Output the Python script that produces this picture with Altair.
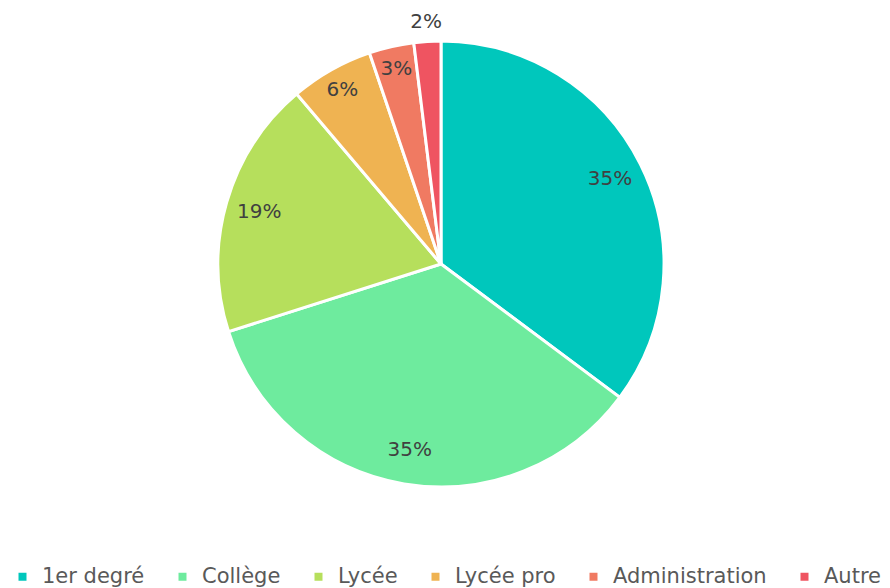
import altair as alt
import pandas as pd

categories = ["1er degré", "Collège", "Lycée", "Lycée pro", "Administration", "Autre"]
values = [35.2, 34.9, 18.7, 6.0, 3.25, 1.95]
labels = ["35%", "35%", "19%", "6%", "3%", "2%"]
colors = ["#00C7BC", "#6EEB9E", "#B6DF5C", "#EFB352", "#F07A62", "#EF5461"]

df = pd.DataFrame({"cat": categories, "value": values, "label": labels,
                   "order": list(range(len(categories)))})

FONT = "DejaVu Sans"
TOTAL = sum(values)

arcs = alt.Chart(df).mark_arc(outerRadius=223, stroke="white", strokeWidth=3).encode(
    theta=alt.Theta("value:Q", stack=True, scale=alt.Scale(domain=[0, TOTAL])),
    order=alt.Order("order:Q", sort="ascending"),
    color=alt.Color(
        "cat:N",
        scale=alt.Scale(domain=categories, range=colors),
        sort=categories,
        legend=alt.Legend(
            title=None,
            orient="none",
            direction="horizontal",
            legendX=4,
            legendY=558,
            symbolType="square",
            symbolSize=64,
            symbolStrokeWidth=0,
            labelFont=FONT,
            labelFontSize=21,
            labelColor="#595959",
            columnPadding=27,
            labelOffset=9,
            labelLimit=300,
        ),
    ),
)

text = alt.Chart(df).transform_window(
    cum="sum(value)", sort=[alt.SortField("order", order="ascending")]
).transform_calculate(
    mid="datum.cum - datum.value / 2",
    r="datum.value < 2.5 ? 242 : (datum.value < 10 ? 200 : 189)",
).mark_text(font=FONT, fontSize=20, color="#404040").encode(
    theta=alt.Theta("mid:Q", scale=alt.Scale(domain=[0, TOTAL])),
    text="label:N",
    radius=alt.Radius("r:Q", scale=None),
)

chart = alt.layer(arcs, text).resolve_scale(theta="independent").properties(
    width=866,
    height=512,
    autosize=alt.AutoSizeParams(type="none"),
    padding={"left": 0, "top": 0, "right": 8, "bottom": 72},
).configure_view(stroke=None)

chart.save("out.html", embed_options={"renderer": "svg", "actions": False})
